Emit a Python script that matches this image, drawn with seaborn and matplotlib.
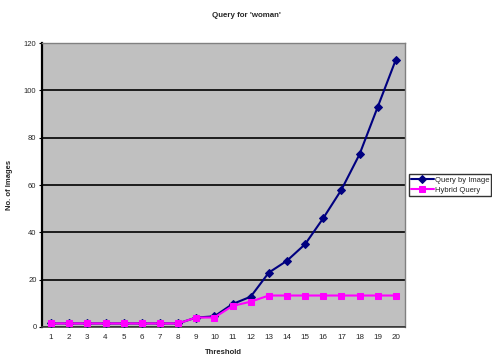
import matplotlib
matplotlib.use("Agg")
import matplotlib.pyplot as plt
import pandas as pd
import seaborn as sns

thresholds = list(range(1, 21))
query_by_image = [1.5, 1.5, 1.5, 1.5, 1.5, 1.5, 1.5, 1.5, 4, 4.5,
                  9.7, 12.8, 23, 28, 35, 46, 58, 73, 93, 113]
hybrid_query = [1.5, 1.5, 1.5, 1.5, 1.5, 1.5, 1.5, 1.5, 4, 4,
                8.9, 10.7, 13.3, 13.3, 13.3, 13.3, 13.3, 13.3, 13.3, 13.3]

sns.set_style("white")
plt.rcParams["font.family"] = ["Liberation Sans", "DejaVu Sans"]

df = pd.DataFrame({"Threshold": thresholds,
                   "Query by Image": query_by_image,
                   "Hybrid Query": hybrid_query})

fig = plt.figure(figsize=(4.92, 3.56), dpi=100)
ax = fig.add_axes([0.0854, 0.0815, 0.7376, 0.7975])
ax.set_facecolor("#C0C0C0")

sns.lineplot(data=df, x="Threshold", y="Query by Image", ax=ax, color="#000080",
             marker="D", markersize=4.5, markeredgecolor="#000080", linewidth=1.5,
             label="Query by Image", zorder=3)
sns.lineplot(data=df, x="Threshold", y="Hybrid Query", ax=ax, color="#FF00FF",
             marker="s", markersize=3.8, markeredgecolor="#FF00FF", linewidth=1.5,
             label="Hybrid Query", zorder=3)

ax.set_xlim(0.5, 20.5)
ax.set_ylim(0, 120)
ax.set_yticks(range(0, 121, 20))
ax.set_xticks(thresholds)
ax.set_xticks([t + 0.5 for t in range(0, 21)], minor=True)
ax.yaxis.grid(True, color="black", linewidth=1.2)
ax.set_axisbelow(True)
ax.tick_params(axis="x", which="major", length=0, labelsize=5.8, pad=5)
ax.tick_params(axis="x", which="minor", length=2, width=0.8, direction="out", color="black")
ax.tick_params(axis="y", length=2, width=0.8, direction="out", color="black",
               labelsize=5.5, left=True, pad=2)

for side in ["top", "right"]:
    ax.spines[side].set_color("#808080")
    ax.spines[side].set_linewidth(1.0)
ax.spines["left"].set_color("black")
ax.spines["left"].set_linewidth(1.6)
ax.spines["bottom"].set_color("#404040")
ax.spines["bottom"].set_linewidth(1.2)

ax.set_xlabel("Threshold", fontsize=5.5, fontweight="bold", labelpad=6)
ax.set_ylabel("No. of Images", fontsize=5.5, fontweight="bold", labelpad=8)
fig.suptitle("Query for 'woman'", fontsize=5.7, fontweight="bold", y=0.965)

leg = ax.legend(loc="center left", bbox_to_anchor=(1.01, 0.5), fontsize=5.5,
                frameon=True, fancybox=False, edgecolor="black",
                handlelength=3, borderpad=0.3, labelspacing=0.3,
                handletextpad=0.1, borderaxespad=0)
leg.get_frame().set_linewidth(1.0)

fig.savefig("out.png", dpi=100)
